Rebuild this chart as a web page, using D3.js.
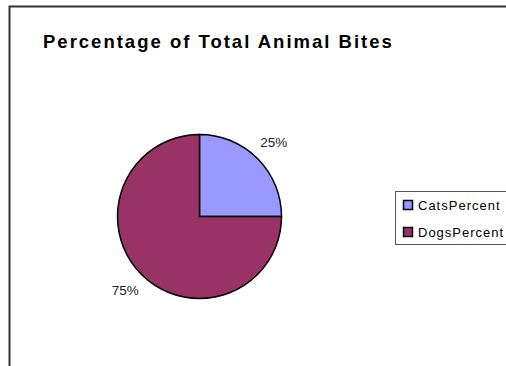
<!DOCTYPE html>
<html>
<head>
<meta charset="utf-8">
<script src="https://cdn.jsdelivr.net/npm/d3@7"></script>
<style>
  body { margin: 0; background: #fff; }
  svg { display: block; font-family: "Liberation Sans", Arial, sans-serif; }
</style>
</head>
<body>
<div id="chart"></div>
<script>
// data
const categories = ["CatsPercent", "DogsPercent"];
const values = [25, 75];
const colors = ["#9999FF", "#993366"];

const width = 506, height = 366;

const svg = d3.select("#chart")
  .append("svg")
  .attr("width", width)
  .attr("height", height);

// chart frame (runs off right and bottom edges)
svg.append("rect")
  .attr("x", 9.5)
  .attr("y", 6.5)
  .attr("width", 520)
  .attr("height", 400)
  .style("fill", "none")
  .style("stroke", "#333")
  .style("stroke-width", 2);

// title
svg.append("text")
  .attr("x", 43)
  .attr("y", 47.5)
  .style("font-size", "18.5px")
  .style("font-weight", "bold")
  .style("letter-spacing", "2px")
  .style("fill", "#000")
  .text("Percentage of Total Animal Bites");

// pie
const cx = 199.5, cy = 216.5, radius = 82;

const pie = d3.pie().sort(null).value(d => d);
const arcs = pie(values);

const arc = d3.arc().innerRadius(0).outerRadius(radius);
const labelArc = d3.arc().innerRadius(105).outerRadius(105);

const g = svg.append("g")
  .attr("transform", "translate(" + cx + "," + cy + ")");

g.selectAll("path")
  .data(arcs)
  .enter()
  .append("path")
  .attr("d", arc)
  .style("fill", (d, i) => colors[i])
  .style("stroke", "#000")
  .style("stroke-width", 1.5)
  .style("stroke-linejoin", "miter");

g.selectAll(".label")
  .data(arcs)
  .enter()
  .append("text")
  .attr("class", "label")
  .attr("transform", d => "translate(" + labelArc.centroid(d) + ")")
  .attr("dy", "0.35em")
  .style("text-anchor", "middle")
  .style("font-size", "13.5px")
  .style("fill", "#222")
  .text(d => d.data + "%");

// legend
const legend = svg.append("g");

legend.append("rect")
  .attr("x", 395.5)
  .attr("y", 191.5)
  .attr("width", 130)
  .attr("height", 53)
  .style("fill", "#fff")
  .style("stroke", "#555")
  .style("stroke-width", 1);

const legendY = d3.scalePoint()
  .domain(categories)
  .range([205, 232]);

categories.forEach((c, i) => {
  legend.append("rect")
    .attr("x", 403.5)
    .attr("y", legendY(c) - 4.5)
    .attr("width", 9)
    .attr("height", 9)
    .style("fill", colors[i])
    .style("stroke", "#000")
    .style("stroke-width", 1.5);
  legend.append("text")
    .attr("x", 418)
    .attr("y", legendY(c))
    .attr("dy", "0.35em")
    .style("font-size", "13px")
    .style("letter-spacing", "1px")
    .style("fill", "#000")
    .text(c);
});
</script>
</body>
</html>
